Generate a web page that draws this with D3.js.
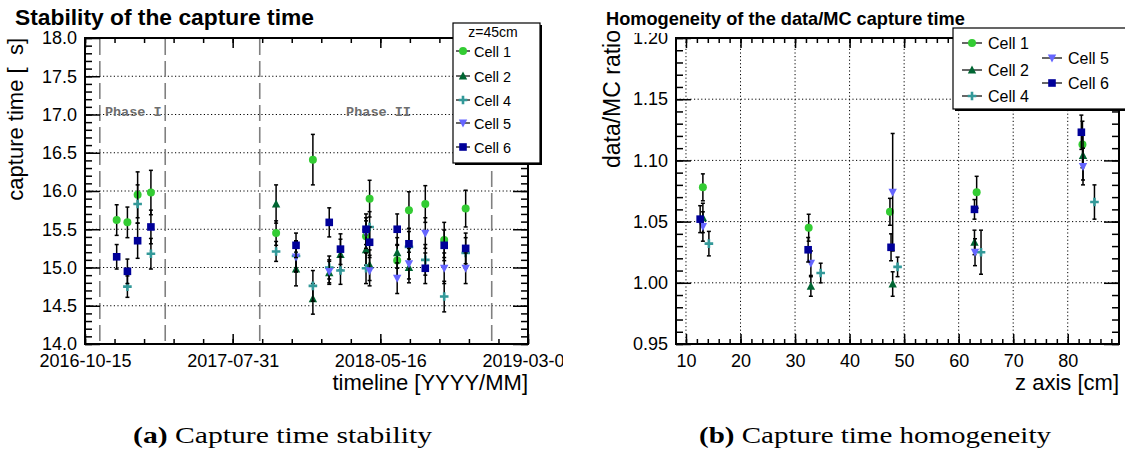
<!DOCTYPE html>
<html>
<head>
<meta charset="utf-8">
<script src="https://cdn.jsdelivr.net/npm/d3@7"></script>
<style>
body { margin: 0; background: #fff; }
svg text { font-family: "Liberation Sans", Arial, sans-serif; }
</style>
</head>
<body>
<svg id="fig" width="1125" height="452"></svg>
<script>
// ---- data: stability of the capture time (z=45cm), [date, value, error]
var cellNames = ["Cell 1", "Cell 2", "Cell 4", "Cell 5", "Cell 6"];
var cellColors = ["#33cc33", "#006633", "#339999", "#6666ff", "#000099"];
var cellShapes = ["circle", "triangle", "cross", "triangleDown", "square"];

var stabCell1 = [["2016-12-16",15.62,0.20],["2017-01-06",15.59,0.20],["2017-01-26",15.95,0.30],["2017-02-21",15.98,0.29],
  ["2017-10-24",15.45,0.16],["2018-01-04",16.41,0.33],["2018-04-18",15.41,0.20],["2018-04-25",15.90,0.24],
  ["2018-06-18",15.09,0.20],["2018-07-11",15.75,0.24],["2018-08-12",15.83,0.24],["2018-09-18",15.36,0.23],["2018-10-30",15.77,0.24]];
var stabCell2 = [["2017-10-24",15.83,0.25],["2017-12-02",14.98,0.22],["2018-01-04",14.59,0.20],["2018-02-05",14.93,0.15],
  ["2018-02-27",15.17,0.20],["2018-04-18",15.23,0.20],["2018-04-25",15.03,0.20],["2018-06-18",15.19,0.20],["2018-07-11",15.00,0.20]];
var stabCell4 = [["2017-01-06",14.75,0.14],["2017-01-26",15.83,0.25],["2017-02-21",15.18,0.20],["2017-10-24",15.21,0.13],
  ["2017-12-02",15.15,0.20],["2018-01-04",14.76,0.20],["2018-02-05",15.00,0.15],["2018-02-27",14.96,0.18],
  ["2018-04-18",14.99,0.20],["2018-04-25",15.53,0.20],["2018-07-11",15.27,0.20],["2018-08-12",15.10,0.20],
  ["2018-09-18",14.62,0.20],["2018-10-30",15.19,0.20]];
var stabCell5 = [["2017-12-02",15.14,0.20],["2018-02-05",14.95,0.15],["2018-04-18",15.45,0.20],["2018-04-25",14.96,0.20],
  ["2018-06-18",14.86,0.20],["2018-07-11",15.05,0.20],["2018-08-12",15.45,0.20],["2018-09-18",14.99,0.20],["2018-10-30",14.99,0.20]];
var stabCell6 = [["2016-12-16",15.14,0.16],["2017-01-06",14.95,0.16],["2017-01-26",15.35,0.23],["2017-02-21",15.53,0.22],
  ["2017-12-02",15.29,0.16],["2018-02-05",15.59,0.19],["2018-02-27",15.24,0.20],["2018-04-18",15.50,0.20],
  ["2018-04-25",15.33,0.20],["2018-06-18",15.50,0.20],["2018-07-11",15.31,0.20],["2018-08-12",14.99,0.20],
  ["2018-09-18",15.29,0.20],["2018-10-30",15.25,0.20]];
var phaseLines = ["2016-11-13", "2017-03-21", "2017-09-22", "2018-12-20"];
var phaseLabels = [["Phase I", "2016-11-23"], ["Phase II", "2018-03-10"]];
var timeTicks = ["2016-10-15", "2017-07-31", "2018-05-16", "2019-03-01"];

// ---- data: homogeneity data/MC ratio, [z, ratio, error]
var homoCell1 = [[13.1,1.078,0.011],[32.5,1.045,0.011],[47.4,1.058,0.011],[63.3,1.074,0.013],[82.7,1.113,0.019]];
var homoCell2 = [[13.1,1.053,0.012],[32.9,0.997,0.008],[47.9,0.999,0.010],[62.9,1.033,0.010],[82.8,1.104,0.020]];
var homoCell4 = [[14.2,1.032,0.010],[34.7,1.008,0.008],[48.8,1.013,0.008],[64.1,1.025,0.018],[84.9,1.066,0.014]];
var homoCell5 = [[13.1,1.046,0.012],[32.9,1.016,0.010],[47.9,1.074,0.048],[63.0,1.025,0.011],[82.8,1.095,0.015]];
var homoCell6 = [[12.6,1.052,0.011],[32.4,1.027,0.010],[47.6,1.029,0.011],[62.9,1.060,0.008],[82.5,1.123,0.014]];

var svg = d3.select("#fig");
var parse = d3.utcParse("%Y-%m-%d");

function marker(g, shape, color, cx, cy) {
    if (shape == "circle") {
        g.append("circle").attr("cx", cx).attr("cy", cy).attr("r", 4).style("fill", color);
    } else if (shape == "square") {
        g.append("rect").attr("x", cx - 3.8).attr("y", cy - 3.8).attr("width", 7.6).attr("height", 7.6).style("fill", color);
    } else if (shape == "triangle") {
        g.append("path").attr("d", "M" + cx + "," + (cy - 4.6) + "L" + (cx + 4.2) + "," + (cy + 3.4) + "L" + (cx - 4.2) + "," + (cy + 3.4) + "Z").style("fill", color);
    } else if (shape == "triangleDown") {
        g.append("path").attr("d", "M" + cx + "," + (cy + 4.6) + "L" + (cx + 4.2) + "," + (cy - 3.4) + "L" + (cx - 4.2) + "," + (cy - 3.4) + "Z").style("fill", color);
    } else {
        var a = 4.3, t = 1.3;
        g.append("path").attr("d",
            "M" + (cx - t) + "," + (cy - a) + "h" + 2 * t + "v" + (a - t) + "h" + (a - t) + "v" + 2 * t + "h" + (t - a) +
            "v" + (a - t) + "h" + (-2 * t) + "v" + (t - a) + "h" + (t - a) + "v" + (-2 * t) + "h" + (a - t) + "Z").style("fill", color);
    }
}

function drawSeries(g, pts, xs, ys, getX, i) {
    pts.forEach(function(p) {
        var cx = xs(getX(p)), y0 = ys(p[1] - p[2]), y1 = ys(p[1] + p[2]);
        g.append("line").attr("x1", cx).attr("x2", cx).attr("y1", y0).attr("y2", y1).style("stroke", "#000").style("stroke-width", 1.5);
        [y0, y1].forEach(function(yy) {
            g.append("line").attr("x1", cx - 2).attr("x2", cx + 2).attr("y1", yy).attr("y2", yy).style("stroke", "#000").style("stroke-width", 1.5);
        });
    });
    pts.forEach(function(p) {
        marker(g, cellShapes[i], cellColors[i], xs(getX(p)), ys(p[1]));
    });
}

function axes(g, xs, ys, x0, x1, y0, y1, xMajor, xMinor, yMajor, yMinor, xFmt, yFmt) {
    var parts = [
        [d3.axisLeft(ys).tickValues(yMajor).tickSize(-15).tickPadding(8).tickFormat(yFmt), x0, 0],
        [d3.axisLeft(ys).tickValues(yMinor).tickSize(-7).tickFormat(""), x0, 0],
        [d3.axisRight(ys).tickValues(yMajor).tickSize(-15).tickFormat(""), x1, 0],
        [d3.axisRight(ys).tickValues(yMinor).tickSize(-7).tickFormat(""), x1, 0],
        [d3.axisBottom(xs).tickValues(xMajor).tickSize(-10).tickPadding(10).tickFormat(xFmt), 0, y1],
        [d3.axisBottom(xs).tickValues(xMinor).tickSize(-5).tickFormat(""), 0, y1],
        [d3.axisTop(xs).tickValues(xMajor).tickSize(-10).tickFormat(""), 0, y0],
        [d3.axisTop(xs).tickValues(xMinor).tickSize(-5).tickFormat(""), 0, y0]
    ];
    parts.forEach(function(p) {
        var a = g.append("g").attr("transform", "translate(" + p[1] + "," + p[2] + ")").call(p[0]);
        a.select(".domain").remove();
        a.selectAll("line").style("stroke", "#000").style("stroke-width", 1.5);
        a.selectAll("text").style("font-size", "18px").style("fill", "#000");
    });
    g.append("rect").attr("x", x0).attr("y", y0).attr("width", x1 - x0).attr("height", y1 - y0)
        .style("fill", "none").style("stroke", "#000").style("stroke-width", 2);
}

// ================= panel (a) =================
svg.append("clipPath").attr("id", "clipA").append("rect").attr("x", 0).attr("y", 0).attr("width", 563).attr("height", 400);
var ga = svg.append("g").attr("clip-path", "url(#clipA)");
var xL = d3.scaleUtc().domain([parse(timeTicks[0]), parse(timeTicks[3])]).range([85, 528]);
var yL = d3.scaleLinear().domain([14, 18]).range([344, 38]);

var t0 = parse(timeTicks[0]).getTime(), t1 = parse(timeTicks[3]).getTime();
var xMinorL = d3.range(0, 16).map(function(i) { return new Date(t0 + i * (t1 - t0) / 15); });

ga.selectAll(".gridL").data([14.5, 15, 15.5, 16, 16.5, 17, 17.5]).enter().append("line")
    .attr("x1", 85).attr("x2", 528).attr("y1", function(d) { return yL(d); }).attr("y2", function(d) { return yL(d); })
    .style("stroke", "#000").style("stroke-width", 1).style("stroke-dasharray", "1.2,2.4");

ga.selectAll(".phaseLine").data(phaseLines).enter().append("line")
    .attr("x1", function(d) { return xL(parse(d)); }).attr("x2", function(d) { return xL(parse(d)); })
    .attr("y1", 39).attr("y2", 343)
    .style("stroke", "#808080").style("stroke-width", 1.6).style("stroke-dasharray", "16,6");

ga.selectAll(".phaseLabel").data(phaseLabels).enter().append("text")
    .attr("x", function(d) { return xL(parse(d[1])); }).attr("y", 116)
    .style("font-family", "'Liberation Mono', monospace").style("font-weight", "bold").style("font-size", "13.5px")
    .style("fill", "#6e6e6e").text(function(d) { return d[0]; });

axes(ga, xL, yL, 85, 528, 38, 344,
    timeTicks.map(parse), xMinorL,
    d3.range(14, 18.01, 0.5), d3.range(14, 18.01, 0.1),
    d3.utcFormat("%Y-%m-%d"), d3.format(".1f"));

[stabCell1, stabCell2, stabCell4, stabCell5, stabCell6].forEach(function(s, i) {
    drawSeries(ga, s, xL, yL, function(p) { return parse(p[0]); }, i);
});

ga.append("text").attr("x", 15).attr("y", 25).style("font-weight", "bold").style("font-size", "22.8px")
    .text("Stability of the capture time");
ga.append("text").attr("transform", "translate(23,38)rotate(-90)").style("text-anchor", "end").style("font-size", "22px")
    .text("capture time [\u00a0\u00a0s]");
ga.append("text").attr("x", 528).attr("y", 390).style("text-anchor", "end").style("font-size", "22px")
    .text("timeline [YYYY/MM]");

// legend (a)
var lgA = ga.append("g");
lgA.append("rect").attr("x", 455).attr("y", 25).attr("width", 87).attr("height", 140).style("fill", "#000");
lgA.append("rect").attr("x", 453).attr("y", 23).attr("width", 87).attr("height", 140)
    .style("fill", "#fff").style("stroke", "#000").style("stroke-width", 1.2);
lgA.append("text").attr("x", 493).attr("y", 37).style("text-anchor", "middle").style("font-size", "14px").text("z=45cm");
[51, 76, 100, 123, 147].forEach(function(yy, i) {
    lgA.append("line").attr("x1", 456).attr("x2", 470).attr("y1", yy).attr("y2", yy).style("stroke", "#000").style("stroke-width", 1.2);
    marker(lgA, cellShapes[i], cellColors[i], 463, yy);
    lgA.append("text").attr("x", 474).attr("y", yy + 5.5).style("font-size", "14.5px").text(cellNames[i]);
});

// ================= panel (b) =================
var gb = svg.append("g");
var xR = d3.scaleLinear().domain([8.17, 89.4]).range([676, 1119]);
var yR = d3.scaleLinear().domain([0.95, 1.20]).range([344, 38]);

gb.selectAll(".gridRy").data([1.00, 1.05, 1.10, 1.15]).enter().append("line")
    .attr("x1", 676).attr("x2", 1119).attr("y1", function(d) { return yR(d); }).attr("y2", function(d) { return yR(d); })
    .style("stroke", "#000").style("stroke-width", 1).style("stroke-dasharray", "1.2,2.4");
gb.selectAll(".gridRx").data(d3.range(10, 81, 10)).enter().append("line")
    .attr("y1", 38).attr("y2", 344).attr("x1", function(d) { return xR(d); }).attr("x2", function(d) { return xR(d); })
    .style("stroke", "#000").style("stroke-width", 1).style("stroke-dasharray", "1.2,2.4");

axes(gb, xR, yR, 676, 1119, 38, 344,
    d3.range(10, 81, 10), d3.range(10, 89, 2),
    [0.95, 1.00, 1.05, 1.10, 1.15, 1.20], d3.range(0.95, 1.2001, 0.01),
    d3.format("d"), d3.format(".2f"));

[homoCell1, homoCell2, homoCell4, homoCell5, homoCell6].forEach(function(s, i) {
    drawSeries(gb, s, xR, yR, function(p) { return p[0]; }, i);
});

gb.append("rect").attr("x", 625).attr("y", 0).attr("width", 330).attr("height", 33).style("fill", "#fff");
gb.append("text").attr("x", 606).attr("y", 25).style("font-weight", "bold").style("font-size", "18.2px")
    .text("Homogeneity of the data/MC capture time");
gb.append("text").attr("transform", "translate(620,30)rotate(-90)").style("text-anchor", "end").style("font-size", "23px")
    .text("data/MC ratio");
gb.append("text").attr("x", 1119).attr("y", 390).style("text-anchor", "end").style("font-size", "22px")
    .text("z axis [cm]");

// legend (b)
var lgB = gb.append("g");
lgB.append("rect").attr("x", 955).attr("y", 30).attr("width", 180).attr("height", 81).style("fill", "#000");
lgB.append("rect").attr("x", 953).attr("y", 28).attr("width", 180).attr("height", 81)
    .style("fill", "#fff").style("stroke", "#000").style("stroke-width", 1.2);
var legPosB = [[972, 43], [972, 70], [972, 96], [1052, 58], [1052, 83]];
legPosB.forEach(function(p, i) {
    lgB.append("line").attr("x1", p[0] - 10).attr("x2", p[0] + 10).attr("y1", p[1]).attr("y2", p[1]).style("stroke", "#000").style("stroke-width", 1.2);
    marker(lgB, cellShapes[i], cellColors[i], p[0], p[1]);
    lgB.append("text").attr("x", p[0] + 16).attr("y", p[1] + 6).style("font-size", "16px").text(cellNames[i]);
});

// ================= captions =================
var captions = [["(a)", " Capture time stability", 133, 299], ["(b)", " Capture time homogeneity", 699, 352]];
captions.forEach(function(c) {
    var t = svg.append("text").attr("x", c[2]).attr("y", 443)
        .attr("textLength", c[3]).attr("lengthAdjust", "spacingAndGlyphs")
        .style("font-family", "'Liberation Serif', 'DejaVu Serif', serif").style("font-size", "23px");
    t.append("tspan").style("font-weight", "bold").text(c[0]);
    t.append("tspan").text(c[1]);
});
</script>
</body>
</html>
